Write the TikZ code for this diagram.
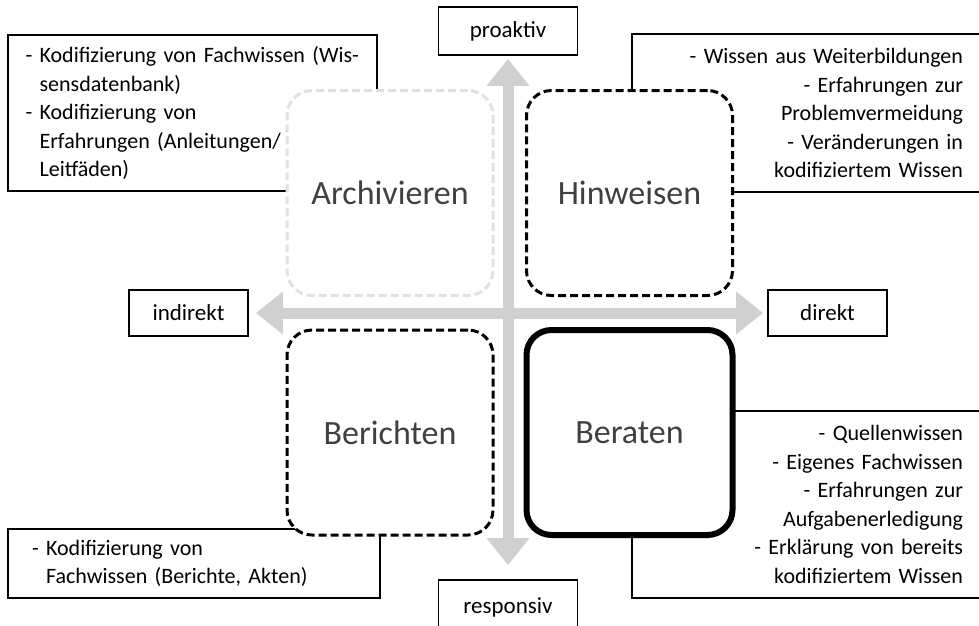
\documentclass[tikz,border=0pt]{standalone}
\usepackage{fontspec}
\setmainfont{Carlito}
\usepackage{tikz}
\usetikzlibrary{arrows.meta,calc,positioning}
\definecolor{axisgray}{RGB}{208,208,208}
\definecolor{lightdash}{RGB}{225,225,225}
\definecolor{quadtext}{RGB}{64,64,64}
\newcommand{\indnt}{\hphantom{-\ }}
\tikzset{
  infobox/.style={draw, line width=1.8pt, inner sep=0pt, font=\fontsize{22}{28.5}\selectfont},
  quadbox/.style={draw, fill=white, rounded corners=25pt, minimum width=206pt, minimum height=205pt,
    inner sep=0pt, text=quadtext, font=\fontsize{34}{40}\selectfont},
  dashbox/.style={quadbox, line width=3pt, dash pattern=on 8pt off 4pt},
  axislabel/.style={draw, line width=1.8pt, fill=white, inner sep=0pt, font=\fontsize{23}{26}\selectfont},
  axisarrow/.style={draw=axisgray, line width=11pt,
    {Triangle[width=41pt,length=27pt]}-{Triangle[width=41pt,length=27pt]}}
}
\begin{document}
\begin{tikzpicture}[x=1pt,y=-1pt]
  \useasboundingbox (0,0) rectangle (979,625);
  % Info boxes behind the quadrants
  \node[infobox, minimum width=369pt, minimum height=156pt, text width=334pt, align=left] (archinfo) at (192.5,113)
    {- Kodifizierung von Fachwissen (Wis-\\\indnt sensdatenbank)\\- Kodifizierung von\\\indnt Erfahrungen (Anleitungen/\\\indnt Leitfäden)};
  \node[infobox, minimum width=353pt, minimum height=158pt, text width=309pt, align=right] (hinwinfo) at (808.5,113)
    {- Wissen aus Weiterbildungen\\- Erfahrungen zur\\Problemvermeidung\\- Veränderungen in\\kodifiziertem Wissen};
  \node[infobox, minimum width=372pt, minimum height=69pt, text width=324pt, align=left] (berichinfo) at (194,563.5)
    {- Kodifizierung von\\\indnt Fachwissen (Berichte, Akten)};
  \node[infobox, minimum width=353pt, minimum height=187pt, text width=309pt, align=right] (beratinfo) at (808.5,504.5)
    {- Quellenwissen\\- Eigenes Fachwissen\\- Erfahrungen zur\\Aufgabenerledigung\\- Erklärung von bereits\\kodifiziertem Wissen};
  % Axis labels
  \node[axislabel, minimum width=139pt, minimum height=48pt] (pro) at (508,31) {proaktiv};
  \node[axislabel, minimum width=139pt, minimum height=54pt] (resp) at (508,607) {responsiv};
  \node[axislabel, minimum width=119pt, minimum height=46pt] (indir) at (188.5,313) {indirekt};
  \node[axislabel, minimum width=119pt, minimum height=46pt] (dir) at (827.5,313) {direkt};
  % Axes
  \draw[axisarrow, shorten <=3pt, shorten >=14pt] (pro) -- (resp);
  \draw[axisarrow, shorten <=7pt, shorten >=4pt] (indir) -- (dir);
  % Quadrants
  \node[dashbox, draw=lightdash] (archiv) at (390,193) {Archivieren};
  \node[dashbox] (hinweis) at (629.5,193) {Hinweisen};
  \node[dashbox] (bericht) at (390,432.5) {Berichten};
  \node[quadbox, line width=6pt] (berat) at (629.5,432.5) {Beraten};
\end{tikzpicture}
\end{document}
